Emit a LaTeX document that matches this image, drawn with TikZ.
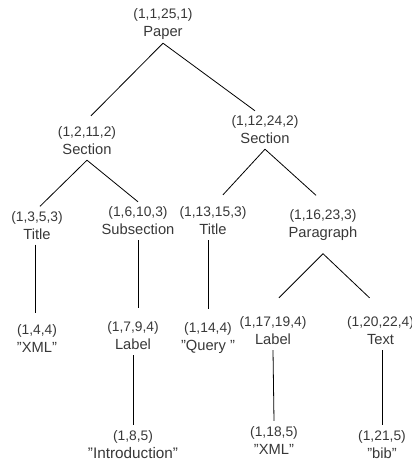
\documentclass[tikz,border=0pt]{standalone}
\usepackage{fontspec}
\setmainfont{Liberation Sans}
% numbering line of each element, a little smaller than the tag name
\newcommand{\tupl}[1]{{\fontsize{13.8}{18}\selectfont#1}}

\begin{document}
\begin{tikzpicture}[x=1pt,y=-1pt,
    elem/.style={align=center,text=black!78,font=\fontsize{14.7}{18}\selectfont,
      inner sep=0pt,minimum height=38pt}]
  \useasboundingbox (0,0) rectangle (412,466);
  \draw
    (163,24) node[elem] (paper){\tupl{(1,1,25,1)}\\Paper}
    (87,141) node[elem] (secA){\tupl{(1,2,11,2)}\\Section}
    (265,130) node[elem] (secB){\tupl{(1,12,24,2)}\\Section}
    (37,225.5) node[elem] (titA){\tupl{(1,3,5,3)}\\Title}
    (138,221) node[elem] (subA){\tupl{(1,6,10,3)}\\Subsection}
    (213,221) node[elem] (titB){\tupl{(1,13,15,3)}\\Title}
    (323,225.5) node[elem] (parB){\tupl{(1,16,23,3)}\\Paragraph}
    (37,338) node[elem] (xmlA){\tupl{(1,4,4)}\\"XML"}
    (133,336) node[elem] (lblA){\tupl{(1,7,9,4)}\\Label}
    (208,338) node[elem] (qry){\tupl{(1,14,4)}\\"Query "}
    (273,331) node[elem] (lblB){\tupl{(1,17,19,4)}\\Label}
    (380.5,331) node[elem] (txtB){\tupl{(1,20,22,4)}\\Text}
    (133,444.5) node[elem] (intro){\tupl{(1,8,5)}\\{\fontsize{15.3}{18}\selectfont"Introduction"}}
    (274,440) node[elem] (xmlB){\tupl{(1,18,5)}\\"XML"}
    (382,444.5) node[elem] (bib){\tupl{(1,21,5)}\\"bib"};
  \begin{scope}[line width=0.8pt]
    \draw (paper.south) -- ([xshift=4pt,yshift=6pt]secA.north);
    \draw (paper.south) -- ([xshift=-10pt]secB.north);
    \draw (secA.south) -- ([xshift=3pt]titA.north);
    \draw (secA.south) -- (subA.north);
    \draw (secB.south) -- ([xshift=10pt,yshift=7pt]titB.north);
    \draw (secB.south) -- ([xshift=-7pt,yshift=11pt]parB.north);
    \draw ([xshift=-2pt]titA.south) -- ([xshift=-2pt,yshift=6pt]xmlA.north);
    \draw (subA.south) -- ([yshift=9pt]subA.south |- lblA.north);
    \draw (qry.north |- titB.south) -- ([yshift=10pt]qry.north);
    \draw ([yshift=-9pt]parB.south) -- ([xshift=6pt,yshift=14pt]lblB.north);
    \draw ([yshift=-9pt]parB.south) -- ([xshift=-11pt,yshift=14pt]txtB.north);
    \draw (lblA.south) -- (intro.north);
    \draw (lblB.south) -- (xmlB.north);
    \draw (bib.north |- txtB.south) -- (bib.north);
  \end{scope}
\end{tikzpicture}
\end{document}
